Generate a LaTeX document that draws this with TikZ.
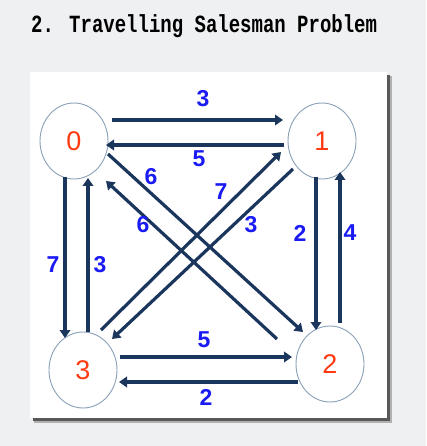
\documentclass[tikz,border=0pt]{standalone}
\usepackage{fontspec}
\usepackage{tikz}
\usetikzlibrary{shapes.geometric,arrows.meta}
\setmainfont{Liberation Sans}
\newfontfamily\titlefont{Liberation Mono}
\definecolor{edgeblue}{HTML}{1B365C}
\definecolor{wtblue}{HTML}{1A1AF5}
\definecolor{citred}{HTML}{FF3A10}
\definecolor{rimgray}{HTML}{8AA0B8}
\definecolor{bggray}{HTML}{EEF0F2}

\begin{document}
\begin{tikzpicture}[x=1pt, y=-1pt,
  city/.style={ellipse, draw=rimgray, line width=0.9pt, fill=white, minimum width=68pt, minimum height=76pt, inner sep=0pt, text=citred, font=\fontsize{27}{27}\selectfont},
  road/.style={line width=3.2pt, draw=edgeblue, -{Triangle[length=8pt, width=10.5pt]}},
  wt/.style={text=wtblue, font=\fontsize{23}{23}\selectfont\bfseries, inner sep=0pt}]

\fill[bggray] (0,0) rectangle (426,446);
\useasboundingbox (0,0) rectangle (426,446);
\node[anchor=west, inner sep=0pt] at (31,26.5) {\scalebox{1}[1.3]{\titlefont\fontsize{19}{19}\selectfont\bfseries 2. Travelling Salesman Problem}};

% panel with shadow
\fill[black!55, opacity=0.5] (34,76) rectangle (392,423);
\fill[black!65] (33,75) rectangle (390,421);
\fill[white] (30,72) rectangle (387,418);

% cities
\node[city] (n0) at (74,141) {0};
\node[city] (n1) at (322,141) {1};
\node[city] (n2) at (330,364) {2};
\node[city] (n3) at (83,370) {3};

% roads
\draw[road] ([shift={(38,-21)}]n0.center) -- ([shift={(-39,-21)}]n1.center);
\draw[road] ([shift={(-38,4)}]n1.center) -- ([shift={(32,4)}]n0.center);
\draw[road] ([shift={(34,13)}]n0.center) -- ([shift={(-27,-32)}]n2.center);
\draw[road] ([shift={(-53,-25)}]n2.center) -- ([shift={(32,40)}]n0.center);
\draw[road] ([shift={(18,-40)}]n3.center) -- ([shift={(-41,11)}]n1.center);
\draw[road] ([shift={(-29,28)}]n1.center) -- ([shift={(29,-31)}]n3.center);
\draw[road] ([shift={(-6,36)}]n1.center) -- ([shift={(-14,-34)}]n2.center);
\draw[road] ([shift={(10,-41)}]n2.center) -- ([shift={(18,31)}]n1.center);
\draw[road] ([shift={(-9,36)}]n0.center) -- ([shift={(-18,-32)}]n3.center);
\draw[road] ([shift={(5,-38)}]n3.center) -- ([shift={(14,37)}]n0.center);
\draw[road] ([shift={(37,-13)}]n3.center) -- ([shift={(-38,-7)}]n2.center);
\draw[road] ([shift={(-32,18)}]n2.center) -- ([shift={(36,12)}]n3.center);

% weights
\node[wt] (w01) at (203,99) {3};
\node[wt] (w10) at (199,159) {5};
\node[wt] (w02) at (151,177) {6};
\node[wt] (w20) at (143,225) {6};
\node[wt] (w31) at (221,192) {7};
\node[wt] (w13) at (251,225) {3};
\node[wt] (w12) at (300,233) {2};
\node[wt] (w21) at (350,233) {4};
\node[wt] (w03) at (53,265) {7};
\node[wt] (w30) at (100,265) {3};
\node[wt] (w32) at (204,340) {5};
\node[wt] (w23) at (206,397) {2};

\end{tikzpicture}
\end{document}
